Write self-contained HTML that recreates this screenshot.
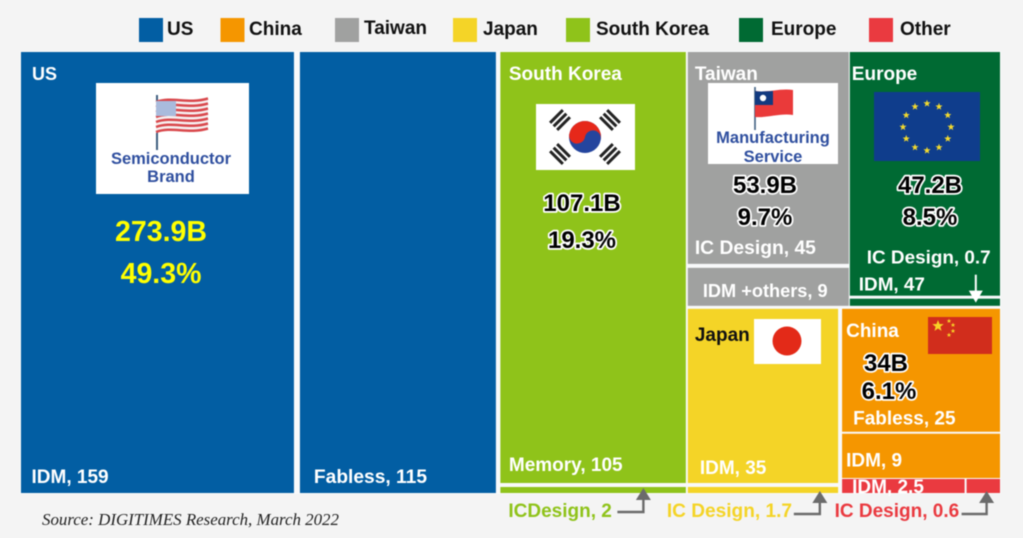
<!DOCTYPE html>
<html lang="en">
<head>
<meta charset="utf-8">
<title>Semiconductor revenue treemap by region</title>
<style>
html,body{margin:0;padding:0;background:#f4f4f4;}
svg{display:block;filter:blur(0.4px);font-family:"Liberation Sans",sans-serif;font-weight:bold;}
.halo{fill:#000;stroke:#fff;stroke-width:3.5px;paint-order:stroke;stroke-linejoin:round;}
.card{fill:#2f4f9f;text-anchor:middle;font-size:16.5px;}
</style>
</head>
<body>
<svg id="chart" width="1023" height="538" viewBox="0 0 1023 538" xmlns="http://www.w3.org/2000/svg">
  <rect width="1023" height="538" fill="#f4f4f4"/>
  <g font-size="19">
    <g><rect x="139" y="18" width="24" height="24" fill="#025ea3"/><text x="167" y="35" fill="#111">US</text></g>
    <g><rect x="220.5" y="18" width="24" height="24" fill="#f59600"/><text x="249" y="35" fill="#111">China</text></g>
    <g><rect x="335" y="18" width="24" height="24" fill="#a0a1a0"/><text x="364" y="34" fill="#111">Taiwan</text></g>
    <g><rect x="453" y="18" width="24" height="24" fill="#f4d427"/><text x="483" y="35" fill="#111">Japan</text></g>
    <g><rect x="566" y="18" width="24" height="24" fill="#8fc31a"/><text x="596" y="35" fill="#111">South Korea</text></g>
    <g><rect x="739" y="18" width="24" height="24" fill="#006a33"/><text x="771" y="35" fill="#111">Europe</text></g>
    <g><rect x="869" y="18" width="24" height="24" fill="#ea3a40"/><text x="900" y="35" fill="#111">Other</text></g>
  </g>
  <rect x="20" y="51" width="981" height="443" fill="#f8f9fa"/>
  <g id="tiles"></g>
  <g id="tile-labels" fill="#fff"></g>

  <g>
    <rect x="96" y="83" width="153" height="111" fill="#fff"/>
    <g id="us-flag">
      <line x1="157" y1="95" x2="157" y2="150" stroke="#3f5f80" stroke-width="2"/>
      <path d="M156 101 C172 95 188 103 208 97 L208 128 C188 134 172 126 156 133 Z" fill="#f6f0f0"/>
    </g>
    <text class="card" x="171" y="164">Semiconductor</text>
    <text class="card" x="171" y="182">Brand</text>
  </g>

  <g>
    <rect x="536" y="104" width="99" height="66" fill="#fff"/>
    <g transform="translate(585 137) rotate(10)">
      <circle r="16" fill="#24459e"/>
      <path d="M-16 0 A16 16 0 0 1 16 0 A8 8 0 0 0 0 0 A8 8 0 0 1 -16 0 Z" fill="#e6281a"/>
    </g>
    <g fill="#222">
      <g transform="translate(560 120) rotate(-45)"><rect x="-9" y="-6.5" width="18" height="3"/><rect x="-9" y="-1.5" width="18" height="3"/><rect x="-9" y="3.5" width="18" height="3"/></g>
      <g transform="translate(610 120) rotate(45)"><rect x="-9" y="-6.5" width="18" height="3"/><rect x="-9" y="-1.5" width="18" height="3"/><rect x="-9" y="3.5" width="18" height="3"/></g>
      <g transform="translate(560 154) rotate(45)"><rect x="-9" y="-6.5" width="18" height="3"/><rect x="-9" y="-1.5" width="18" height="3"/><rect x="-9" y="3.5" width="18" height="3"/></g>
      <g transform="translate(610 154) rotate(-45)"><rect x="-9" y="-6.5" width="18" height="3"/><rect x="-9" y="-1.5" width="18" height="3"/><rect x="-9" y="3.5" width="18" height="3"/></g>
    </g>
  </g>

  <g>
    <rect x="708" y="83" width="130" height="81" fill="#fff"/>
    <g>
      <line x1="755" y1="87" x2="755" y2="130" stroke="#3f5f80" stroke-width="1.6"/>
      <path d="M755 91 C768 93 780 88 793 90 L793 115 C780 113 768 118 755 117 Z" fill="#ea3a3a"/>
      <path d="M755 91 C761 92 767 91 773 91 L773 105 L755 105 Z" fill="#123a80"/>
      <circle cx="763" cy="98" r="3.2" fill="#fff"/>
    </g>
    <text class="card" x="773" y="143">Manufacturing</text>
    <text class="card" x="773" y="162">Service</text>
  </g>

  <g id="eu-flag">
    <rect x="874" y="92" width="106" height="69" fill="#0f3d8c"/>
  </g>

  <g>
    <rect x="754" y="319" width="67" height="45" fill="#fff"/>
    <circle cx="787" cy="341" r="14.5" fill="#e32a18"/>
  </g>

  <g id="cn-flag">
    <rect x="928" y="317" width="64" height="37" fill="#d12d1c"/>
  </g>

  <g id="totals"></g>
  <g id="callouts"></g>

  <text x="42" y="525" font-family="'Liberation Serif',serif" font-style="italic" font-weight="normal" font-size="16.9" fill="#222">Source: DIGITIMES Research, March 2022</text>
</svg>

<script>
const usSegments = ['IDM', 'Fabless'];
const usValues = [159, 115];
const koreaSegments = ['Memory', 'ICDesign'];
const koreaValues = [105, 2];
const taiwanSegments = ['IC Design', 'IDM +others'];
const taiwanValues = [45, 9];
const europeSegments = ['IDM', 'IC Design'];
const europeValues = [47, 0.7];
const japanSegments = ['IDM', 'IC Design'];
const japanValues = [35, 1.7];
const chinaSegments = ['Fabless', 'IDM'];
const chinaValues = [25, 9];
const otherSegments = ['IDM', 'IC Design'];
const otherValues = [2.5, 0.6];
const regionNames = ['US', 'South Korea', 'Taiwan', 'Europe', 'China'];
const regionTotals = [273.9, 107.1, 53.9, 47.2, 34];
const regionShares = [49.3, 19.3, 9.7, 8.5, 6.1];

const NS = 'http://www.w3.org/2000/svg';
const tilesLayer = document.getElementById('tiles');
const labelsLayer = document.getElementById('tile-labels');
const totalsLayer = document.getElementById('totals');
const calloutsLayer = document.getElementById('callouts');

function total(values) { return values.reduce((a, b) => a + b, 0); }

/* Value axis: splits a span in proportion to values, after reserving gaps and fixed padding. */
function split(start, length, values, gaps, padding) {
  const free = length - total(gaps) - total(padding);
  const sum = total(values);
  let cursor = start;
  return values.map((value, i) => {
    const size = padding[i] + free * value / sum;
    const band = { start: cursor, size: size };
    cursor += size + (gaps[i] || 0);
    return band;
  });
}

function drawTile(name, color, xBand, yBand) {
  const el = document.createElementNS(NS, 'rect');
  
  
  el.setAttribute('x', xBand.start);
  el.setAttribute('y', yBand.start);
  el.setAttribute('width', xBand.size);
  el.setAttribute('height', yBand.size);
  el.setAttribute('fill', color);
  tilesLayer.appendChild(el);
  return { x: xBand.start, y: yBand.start, w: xBand.size, h: yBand.size };
}

function drawText(layer, name, content, x, y, size, fill, cls, anchor) {
  const el = document.createElementNS(NS, 'text');
  
  
  el.setAttribute('x', x);
  el.setAttribute('y', y);
  el.setAttribute('font-size', size);
  if (fill) el.setAttribute('fill', fill);
  if (cls) el.setAttribute('class', cls);
  if (anchor) el.setAttribute('text-anchor', anchor);
  el.textContent = content;
  layer.appendChild(el);
}

function segLabel(segments, values, i) { return segments[i] + ', ' + values[i]; }

/* Columns */
const rightValue = total(taiwanValues) + total(europeValues) + total(japanValues) + total(chinaValues) + total(otherValues);
const columns = split(21, 979, [total(usValues), total(koreaValues), rightValue], [4.5, 2], [0, 0, 8]);
const fullY = { start: 52, size: 441 };

/* US */
const usX = split(columns[0].start, columns[0].size, usValues, [6], [2, 0]);
const usIdm = drawTile('tile-us-idm', '#025ea3', usX[0], fullY);
const usFab = drawTile('tile-us-fabless', '#025ea3', usX[1], fullY);

/* South Korea */
const koreaY = split(fullY.start, fullY.size, koreaValues, [4], [116, 0]);
const krMem = drawTile('tile-korea-memory', '#8fc31a', columns[1], koreaY[0]);
const krIc = drawTile('tile-korea-ic-design', '#8fc31a', columns[1], koreaY[1]);

/* Right block rows */
const topValue = total(taiwanValues) + total(europeValues);
const bottomValue = total(japanValues) + total(chinaValues) + total(otherValues);
const rows = split(fullY.start, fullY.size, [topValue, bottomValue], [3], [0, 0]);

/* Top row: Taiwan, Europe */
const topX = split(columns[2].start, columns[2].size, [total(taiwanValues), total(europeValues)], [1], [0, 8]);
const taiwanY = split(rows[0].start, rows[0].size, taiwanValues, [4], [22, 0]);
const twIc = drawTile('tile-taiwan-ic-design', '#a0a1a0', topX[0], taiwanY[0]);
const twIdm = drawTile('tile-taiwan-idm-others', '#a0a1a0', topX[0], taiwanY[1]);
const europeY = split(rows[0].start, rows[0].size, europeValues, [3], [0, 3.5]);
const euIdm = drawTile('tile-europe-idm', '#006a33', topX[1], europeY[0]);
const euIc = drawTile('tile-europe-ic-design', '#006a33', topX[1], europeY[1]);

/* Bottom row: Japan, China + Other */
const bottomX = split(columns[2].start, columns[2].size, [total(japanValues), total(chinaValues) + total(otherValues)], [4], [0, 6]);
const japanY = split(rows[1].start, rows[1].size, japanValues, [4], [50, 0]);
const jpIdm = drawTile('tile-japan-idm', '#f4d427', bottomX[0], japanY[0]);
const jpIc = drawTile('tile-japan-ic-design', '#f4d427', bottomX[0], japanY[1]);
const stackY = split(rows[1].start, rows[1].size, [total(chinaValues), total(otherValues)], [1], [15.5, 0]);
const chinaY = split(stackY[0].start, stackY[0].size, chinaValues, [2], [0, 0]);
const cnFab = drawTile('tile-china-fabless', '#f59600', bottomX[1], chinaY[0]);
const cnIdm = drawTile('tile-china-idm', '#f59600', bottomX[1], chinaY[1]);
const otherX = split(bottomX[1].start, bottomX[1].size, otherValues, [2], [0, 4]);
const otIdm = drawTile('tile-other-idm', '#ea3a40', otherX[0], stackY[1]);
const otIc = drawTile('tile-other-ic-design', '#ea3a40', otherX[1], stackY[1]);

/* Region headers */
drawText(labelsLayer, 'region-label-us', regionNames[0], usIdm.x + 11, usIdm.y + 28, 18);
drawText(labelsLayer, 'region-label-south-korea', regionNames[1], krMem.x + 8.5, krMem.y + 28, 19);
drawText(labelsLayer, 'region-label-taiwan', regionNames[2], twIc.x + 7, twIc.y + 28, 19);
drawText(labelsLayer, 'region-label-europe', regionNames[3], euIdm.x + 2, euIdm.y + 28, 19);
drawText(labelsLayer, 'region-label-japan', 'Japan', jpIdm.x + 7, jpIdm.y + 32, 19, '#111');
drawText(labelsLayer, 'region-label-china', regionNames[4], cnFab.x + 4, cnFab.y + 28, 19);

/* Segment labels */
drawText(labelsLayer, 'label-us-idm', segLabel(usSegments, usValues, 0), usIdm.x + 10.5, usIdm.y + usIdm.h - 10, 19);
drawText(labelsLayer, 'label-us-fabless', segLabel(usSegments, usValues, 1), usFab.x + 14, usFab.y + usFab.h - 10, 19.2);
drawText(labelsLayer, 'label-korea-memory', segLabel(koreaSegments, koreaValues, 0), krMem.x + 8.5, krMem.y + krMem.h - 12, 19);
drawText(labelsLayer, 'label-taiwan-ic-design', segLabel(taiwanSegments, taiwanValues, 0), twIc.x + 7, twIc.y + twIc.h - 10, 19.3);
drawText(labelsLayer, 'label-taiwan-idm-others', segLabel(taiwanSegments, taiwanValues, 1), twIdm.x + 15, twIdm.y + 29, 18.2);
drawText(labelsLayer, 'label-europe-idm', segLabel(europeSegments, europeValues, 0), euIdm.x + 9, euIdm.y + euIdm.h - 5, 18.9);
drawText(labelsLayer, 'label-europe-ic-design', segLabel(europeSegments, europeValues, 1), euIc.x + 17, euIc.y - 35, 18.9);
drawText(labelsLayer, 'label-japan-idm', segLabel(japanSegments, japanValues, 0), jpIdm.x + 12, jpIdm.y + jpIdm.h - 9, 19);
drawText(labelsLayer, 'label-china-fabless', segLabel(chinaSegments, chinaValues, 0), cnFab.x + 11, cnFab.y + cnFab.h - 7, 19);
drawText(labelsLayer, 'label-china-idm', segLabel(chinaSegments, chinaValues, 1), cnIdm.x + 4, cnIdm.y + 33, 19);
drawText(labelsLayer, 'label-other-idm', segLabel(otherSegments, otherValues, 0), otIdm.x + 10, otIdm.y + otIdm.h, 19);

/* Region totals */
drawText(totalsLayer, 'total-us', regionTotals[0] + 'B', 161, 241, 28.5, '#ffff00', '', 'middle');
drawText(totalsLayer, 'share-us', regionShares[0] + '%', 161, 283, 28.5, '#ffff00', '', 'middle');
drawText(totalsLayer, 'total-south-korea', regionTotals[1] + 'B', 582, 211, 24, '', 'halo', 'middle');
drawText(totalsLayer, 'share-south-korea', regionShares[1] + '%', 582, 248, 24, '', 'halo', 'middle');
drawText(totalsLayer, 'total-taiwan', regionTotals[2] + 'B', 765, 193, 24, '', 'halo', 'middle');
drawText(totalsLayer, 'share-taiwan', regionShares[2] + '%', 765, 225, 24, '', 'halo', 'middle');
drawText(totalsLayer, 'total-europe', regionTotals[3] + 'B', 930, 193, 24, '', 'halo', 'middle');
drawText(totalsLayer, 'share-europe', regionShares[3] + '%', 930, 225, 24, '', 'halo', 'middle');
drawText(totalsLayer, 'total-china', regionTotals[4] + 'B', 886, 371, 24, '', 'halo', 'middle');
drawText(totalsLayer, 'share-china', regionShares[4] + '%', 889, 399, 24, '', 'halo', 'middle');

/* Callouts */
function drawElbowArrow(name, x1, lineY, x2, tipY, color) {
  const el = document.createElementNS(NS, 'path');
  
  
  const d = 'M' + x1 + ' ' + lineY + 'H' + x2 + 'V' + (tipY + 10);
  el.setAttribute('d', d);
  el.setAttribute('fill', 'none');
  el.setAttribute('stroke', color);
  el.setAttribute('stroke-width', '2.4');
  calloutsLayer.appendChild(el);
  const head = document.createElementNS(NS, 'polygon');
  
  
  head.setAttribute('points', x2 + ',' + tipY + ' ' + (x2 + 7.5) + ',' + (tipY + 12) + ' ' + (x2 - 7.5) + ',' + (tipY + 12));
  head.setAttribute('fill', color);
  calloutsLayer.appendChild(head);
}

const calloutBase = krIc.y + krIc.h;
drawText(calloutsLayer, 'callout-korea-ic-design', segLabel(koreaSegments, koreaValues, 1), krIc.x + 8, calloutBase + 24, 19, '#8fc31a');
drawElbowArrow('callout-arrow-korea', krIc.x + 117, calloutBase + 19, krIc.x + 143, calloutBase - 5, '#6b6b6b');
drawText(calloutsLayer, 'callout-japan-ic-design', segLabel(japanSegments, japanValues, 1), jpIc.x - 21, calloutBase + 24, 19.1, '#f4d427');
drawElbowArrow('callout-arrow-japan', jpIc.x + 106, calloutBase + 21, jpIc.x + 132, calloutBase - 2, '#6b6b6b');
drawText(calloutsLayer, 'callout-other-ic-design', segLabel(otherSegments, otherValues, 1), otIc.x - 132, calloutBase + 24, 19, '#ea3a40');
drawElbowArrow('callout-arrow-other', otIc.x - 5, calloutBase + 21, otIc.x + 20, calloutBase - 2, '#6b6b6b');

/* White arrow into the Europe IC Design sliver */
const euArrowX = euIc.x + 126;
const euArrowLine = document.createElementNS(NS, 'line');


euArrowLine.setAttribute('x1', euArrowX);
euArrowLine.setAttribute('x2', euArrowX);
euArrowLine.setAttribute('y1', euIc.y - 24);
euArrowLine.setAttribute('y2', euIc.y - 6);
euArrowLine.setAttribute('stroke', '#fff');
euArrowLine.setAttribute('stroke-width', '2');
calloutsLayer.appendChild(euArrowLine);
const euArrowHead = document.createElementNS(NS, 'polygon');


euArrowHead.setAttribute('points', euArrowX + ',' + (euIc.y + 4) + ' ' + (euArrowX - 7) + ',' + (euIc.y - 8) + ' ' + (euArrowX + 7) + ',' + (euIc.y - 8));
euArrowHead.setAttribute('fill', '#fff');
calloutsLayer.appendChild(euArrowHead);

/* Flag decorations */
function starPoints(cx, cy, r) {
  const pts = [];
  for (let i = 0; i < 10; i++) {
    const radius = i % 2 === 0 ? r : r * 0.42;
    const a = -Math.PI / 2 + i * Math.PI / 5;
    pts.push((cx + radius * Math.cos(a)).toFixed(1) + ',' + (cy + radius * Math.sin(a)).toFixed(1));
  }
  return pts.join(' ');
}

function addStar(parent, name, cx, cy, r, color) {
  const el = document.createElementNS(NS, 'polygon');
  
  
  el.setAttribute('points', starPoints(cx, cy, r));
  el.setAttribute('fill', color);
  parent.appendChild(el);
}

const euFlag = document.getElementById('eu-flag');
for (let i = 0; i < 12; i++) {
  const a = i * Math.PI / 6;
  addStar(euFlag, 'eu-star', 927 + 24 * Math.sin(a), 127 - 23.5 * Math.cos(a), 3.8, '#f2d92e');
}

const cnFlag = document.getElementById('cn-flag');
addStar(cnFlag, 'china-large-star', 938, 326, 6, '#f8d327');
addStar(cnFlag, 'china-small-star', 949, 321, 2.4, '#f8d327');
addStar(cnFlag, 'china-small-star', 953, 325, 2.4, '#f8d327');
addStar(cnFlag, 'china-small-star', 953, 331, 2.4, '#f8d327');
addStar(cnFlag, 'china-small-star', 949, 335, 2.4, '#f8d327');

const usFlag = document.getElementById('us-flag');
for (let i = 0; i < 7; i++) {
  const stripe = document.createElementNS(NS, 'path');
  
  
  const top = 98.5 + i * 5;
  const left = top + 3.5;
  stripe.setAttribute('d', 'M156 ' + left + ' C172 ' + (left - 6) + ' 188 ' + (top + 6) + ' 208 ' + top);
  stripe.setAttribute('fill', 'none');
  stripe.setAttribute('stroke', '#d9484c');
  stripe.setAttribute('stroke-width', '2.5');
  usFlag.appendChild(stripe);
}
const usCanton = document.createElementNS(NS, 'rect');


usCanton.setAttribute('x', 156);
usCanton.setAttribute('y', 101);
usCanton.setAttribute('width', 20);
usCanton.setAttribute('height', 15);
usCanton.setAttribute('fill', '#a9bbdc');
usFlag.appendChild(usCanton);
</script>
</body>
</html>
